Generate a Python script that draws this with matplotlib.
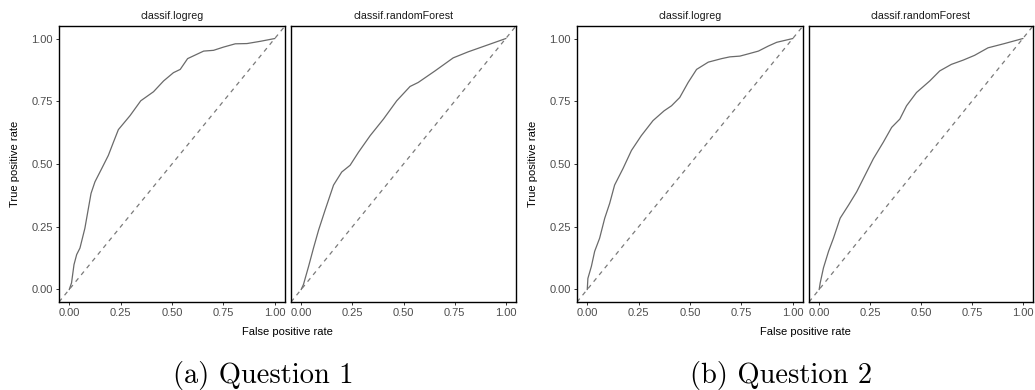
import matplotlib.pyplot as plt

# ROC curves: (false positive rate, true positive rate)
q1_logreg_fpr = [0, 0.011, 0.023, 0.036, 0.052, 0.076, 0.093, 0.106, 0.125, 0.158, 0.190, 0.215,
                 0.239, 0.296, 0.348, 0.410, 0.459, 0.507, 0.540, 0.576, 0.654, 0.702, 0.751,
                 0.808, 0.865, 0.930, 1.0]
q1_logreg_tpr = [0, 0.026, 0.099, 0.139, 0.165, 0.244, 0.323, 0.383, 0.429, 0.482, 0.534, 0.587,
                 0.637, 0.693, 0.752, 0.788, 0.831, 0.864, 0.877, 0.920, 0.950, 0.953, 0.966,
                 0.979, 0.980, 0.989, 1.0]
q1_rf_fpr = [0, 0.011, 0.036, 0.060, 0.085, 0.117, 0.158, 0.198, 0.239, 0.280, 0.337, 0.402,
             0.467, 0.532, 0.572, 0.654, 0.743, 0.816, 1.0]
q1_rf_tpr = [0, 0.020, 0.092, 0.165, 0.237, 0.317, 0.416, 0.468, 0.495, 0.547, 0.613, 0.679,
             0.752, 0.809, 0.825, 0.871, 0.923, 0.947, 1.0]
q2_logreg_fpr = [0, 0.003, 0.020, 0.036, 0.060, 0.085, 0.109, 0.133, 0.174, 0.215, 0.263, 0.320,
                 0.374, 0.410, 0.450, 0.491, 0.532, 0.589, 0.654, 0.694, 0.743, 0.784, 0.833,
                 0.881, 0.922, 1.0]
q2_logreg_tpr = [0, 0.044, 0.092, 0.152, 0.204, 0.284, 0.343, 0.416, 0.482, 0.554, 0.613, 0.673,
                 0.712, 0.732, 0.765, 0.825, 0.877, 0.906, 0.920, 0.927, 0.930, 0.939, 0.950,
                 0.970, 0.985, 1.0]
q2_rf_fpr = [0, 0.005, 0.021, 0.046, 0.070, 0.103, 0.144, 0.184, 0.225, 0.266, 0.315, 0.356,
             0.396, 0.429, 0.478, 0.543, 0.592, 0.649, 0.707, 0.763, 0.829, 0.910, 1.0]
q2_rf_tpr = [0, 0.026, 0.086, 0.152, 0.204, 0.284, 0.336, 0.389, 0.455, 0.521, 0.587, 0.646,
             0.679, 0.732, 0.785, 0.831, 0.871, 0.897, 0.914, 0.933, 0.963, 0.980, 1.0]

learners = ["classif.logreg", "classif.randomForest"]
captions = ["(a) Question 1", "(b) Question 2"]
ticks = [0, 0.25, 0.5, 0.75, 1.0]
tick_labels = ["0.00", "0.25", "0.50", "0.75", "1.00"]

curves = [
    [(q1_logreg_fpr, q1_logreg_tpr), (q1_rf_fpr, q1_rf_tpr)],
    [(q2_logreg_fpr, q2_logreg_tpr), (q2_rf_fpr, q2_rf_tpr)],
]

W, H = 1035, 390
plt.rcParams['font.family'] = ['Liberation Sans', 'DejaVu Sans']

fig = plt.figure(figsize=(W / 100, H / 100), dpi=100)

# pixel boxes of the panels (left, right); top and bottom shared
panel_x = [[(59, 285), (291, 516)], [(577, 803), (809, 1033)]]
top, bottom = 26, 302


def px_box(x0, x1):
    return [x0 / W, 1 - bottom / H, (x1 - x0) / W, (bottom - top) / H]


for q in range(2):
    for j in range(2):
        ax = fig.add_axes(px_box(*panel_x[q][j]))
        fpr, tpr = curves[q][j]
        ax.plot(fpr, tpr, color='#6a6a6a', lw=0.9)
        ax.axline((0, 0), slope=1, color='#7a7a7a', lw=0.9, ls=(0, (3.5, 3.5)))
        ax.set_xlim(-0.05, 1.05)
        ax.set_ylim(-0.05, 1.05)
        ax.set_xticks(ticks)
        ax.set_xticklabels(tick_labels)
        ax.set_yticks(ticks)
        if j == 0:
            ax.set_yticklabels(tick_labels)
        else:
            ax.tick_params(axis='y', left=False, labelleft=False)
        ax.tick_params(length=2.3, width=0.7, color='#333333', labelsize=8,
                       labelcolor='#4d4d4d', pad=2)
        for s in ax.spines.values():
            s.set_linewidth(1.0)
            s.set_color('black')
        ax.set_title(learners[j], fontsize=7.7, color='#1a1a1a', pad=5)

    # shared labels and caption
    x_mid = (panel_x[q][0][0] + panel_x[q][1][1]) / 2
    fig.text(x_mid / W, 1 - 332 / H, "False positive rate", ha='center', va='center',
             fontsize=8, color='black')
    fig.text((panel_x[q][0][0] - 44) / W, 1 - ((top + bottom) / 2) / H, "True positive rate",
             rotation=90, ha='center', va='center', fontsize=8, color='black')
    fig.text((x_mid - 24) / W, 1 - 375 / H, captions[q], ha='center', va='center',
             fontsize=20.5, family='cmr10')

fig.savefig("out.png", dpi=100)
